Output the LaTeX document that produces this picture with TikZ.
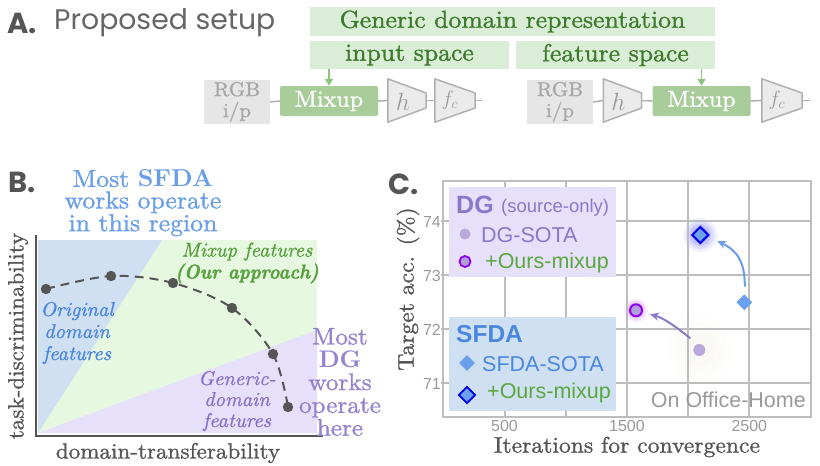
\documentclass[tikz,border=0pt]{standalone}
\usepackage{fontspec}
\setmainfont{lmroman10}[Extension=.otf, UprightFont=*-regular, BoldFont=*-bold, ItalicFont=*-italic, BoldItalicFont=*-bolditalic,
  UprightFeatures={FakeStretch=1.05, FakeBold=1.2}, ItalicFeatures={FakeStretch=1.02, FakeBold=1.0}]
\newfontfamily\lmbold{lmroman10-bold}[Extension=.otf, FakeStretch=1.0]
\newfontfamily\lmbolditalic{lmroman10-bolditalic}[Extension=.otf, FakeStretch=0.92, FakeBold=1.6]
\newfontfamily\arialf{Liberation Sans}
\newfontfamily\popf{Poppins}
\usetikzlibrary{calc,arrows.meta,shapes.geometric}
\newcommand\fsz[2]{\fontsize{#1}{#2}\selectfont}
\definecolor{titlegray}{HTML}{666666}
\definecolor{labelgray}{HTML}{555555}
\definecolor{gbg}{HTML}{DAEDD6}
\definecolor{gtxt}{HTML}{3D7A2C}
\definecolor{garrow}{HTML}{8CC47C}
\definecolor{mixfill}{HTML}{A9CC9B}
\definecolor{rgbfill}{HTML}{E6E6E6}
\definecolor{rgbtxt}{HTML}{A8A8A8}
\definecolor{ampfill}{HTML}{EBEBEB}
\definecolor{ampline}{HTML}{B0B0B0}
\definecolor{blueR}{HTML}{CFE0F2}
\definecolor{greenR}{HTML}{E6F8E0}
\definecolor{purpR}{HTML}{E6E0FA}
\definecolor{sfdablue}{HTML}{6A9EE8}
\definecolor{origblue}{HTML}{4A86E0}
\definecolor{mixgreen}{HTML}{5AA040}
\definecolor{genpurp}{HTML}{8A72CC}
\definecolor{dgpurp}{HTML}{9484D0}
\definecolor{dotgray}{HTML}{555555}
\definecolor{gridgray}{HTML}{BDBDBD}
\definecolor{tickgray}{HTML}{999999}
\definecolor{dgbox}{HTML}{E6E0FB}
\definecolor{sfbox}{HTML}{CFE0F2}
\definecolor{dglegtxt}{HTML}{8A78C8}
\definecolor{sflegtxt}{HTML}{4A88E0}
\definecolor{oursgreen}{HTML}{5AA83C}
\definecolor{dgsota}{HTML}{B8A8DC}
\definecolor{dgours}{HTML}{B0A0D8}
\definecolor{dgoursline}{HTML}{9000F0}
\definecolor{sffill}{HTML}{6AA0EC}
\definecolor{sfoursline}{HTML}{0000EE}
\definecolor{purparrow}{HTML}{8A78C8}
\definecolor{glowbeige}{HTML}{D8D4B8}
\begin{document}
\begin{tikzpicture}[x=1pt,y=-1pt,
  gbox/.style={fill=gbg, text=gtxt, inner sep=0, font=\fsz{24.5}{24.5}},
  rgbbox/.style={fill=rgbfill, text=rgbtxt, minimum width=66, minimum height=44, inner sep=0, align=center, font=\fsz{20}{21}},
  mixbox/.style={fill=mixfill, text=white, rounded corners=2, minimum width=98, minimum height=30, inner sep=0, font=\fsz{23}{23}},
  amp/.style={minimum width=38, minimum height=43, inner sep=0},
  chain/.style={draw=ampline, line width=1.5},
  garr/.style={draw=garrow, line width=1.8, -{Triangle[length=7,width=8]}},
  axisline/.style={draw=labelgray, line width=2},
  dashcurve/.style={draw=dotgray, line width=2, dash pattern=on 9 off 6},
  grid line/.style={draw=gridgray, line width=2},
  tick label/.style={text=tickgray, font=\arialf\fsz{16}{16}, inner sep=0},
  leg/.style={inner sep=0, font=\arialf\fsz{21.5}{21.5}},
]
\useasboundingbox (0,0) rectangle (820,466);

% ---------------- Panel A ----------------
\node[anchor=west, inner sep=0, text=labelgray, font=\popf\bfseries\fsz{29}{29}] (labA) at (7,23) {A.};
\node[anchor=west, inner sep=0, text=titlegray, font=\popf\fsz{28.3}{28.3}] (titleA) at (54,23) {Proposed setup};

\node[gbox, minimum width=405, minimum height=29] (gdr) at (512.5,21.5) {Generic domain representation};
\node[gbox, minimum width=199, minimum height=28] (inspace) at (409.5,55) {input space};
\node[gbox, minimum width=199, minimum height=28] (featspace) at (615.5,55) {feature space};

% left chain
\node[rgbbox] (rgb1) at (237,102) {RGB\\i/p};
\node[mixbox] (mix1) at (329,101) {Mixup};
\node[amp] (h1) at (407,100.5) {};
\node[amp, minimum width=40] (fc1) at (455,100.5) {};
\coordinate (out1) at (482,100.5);
% right chain
\node[rgbbox] (rgb2) at (560,102) {RGB\\i/p};
\node[amp] (h2) at (622.5,100.5) {};
\node[mixbox] (mix2) at (701.5,101) {Mixup};
\node[amp, minimum width=40] (fc2) at (782,100.5) {};
\coordinate (out2) at (810,100.5);

\foreach \n in {h1,fc1,h2,fc2}{
  \filldraw[fill=ampfill, draw=ampline, line width=1.5, line join=round]
    (\n.north west) -- ($(\n.east)+(0,-7.5)$) -- ($(\n.east)+(0,7.5)$) -- (\n.south west) -- cycle;
}
\foreach \n in {h1,h2}{
  \node[inner sep=0, text=tickgray, font=\fsz{25}{25}] at ($(\n.center)+(-4,1)$) {$h$};
}
\foreach \n in {fc1,fc2}{
  \node[inner sep=0, text=tickgray, font=\fsz{22}{22}] at ($(\n.center)+(-5,0)$) {$f_c$};
}

\draw[chain] (rgb1.east) -- (mix1.west);
\draw[chain] (mix1.east) -- (h1.west);
\draw[chain] (h1.east) -- (fc1.west);
\draw[chain] (fc1.east) -- (out1);
\draw[chain] (rgb2.east) -- (h2.west);
\draw[chain] (h2.east) -- (mix2.west);
\draw[chain] (mix2.east) -- (fc2.west);
\draw[chain] (fc2.east) -- (out2);

\draw[garr] (mix1.north |- inspace.south) -- (mix1.north);
\draw[garr] (mix2.north |- featspace.south) -- (mix2.north);

% ---------------- Panel B ----------------
\node[anchor=west, inner sep=0, text=labelgray, font=\popf\bfseries\fsz{29}{29}] (labB) at (8,182) {B.};

\fill[greenR] (38,240) rectangle (317,433);
\fill[blueR] (38,240) -- (162,240) -- (38,433) -- cycle;
\fill[purpR] (38,433) -- (317,330) -- (317,433) -- cycle;
\draw[axisline] (36,235) -- (36,436) -- (323,436);

\node[align=center, inner sep=0, text=sfdablue, font=\fsz{24.5}{21.5}] (sfdatxt) at (143,203)
  {Most {\lmbold SFDA}\\works operate\\in this region};
\node[align=center, inner sep=0, text=mixgreen, font=\itshape\fsz{20}{22}] (mixtxt) at (247,263)
  {Mixup features\\{\lmbolditalic (Our approach)}};
\node[align=center, inner sep=0, text=origblue, font=\itshape\fsz{20}{22}] (origtxt) at (77,333)
  {Original\\domain\\features};
\node[align=center, inner sep=0, text=genpurp, font=\itshape\fsz{20}{21}] (gentxt) at (237,401)
  {Generic-\\domain\\features};
\node[align=center, inner sep=0, text=dgpurp, font=\fsz{24}{22.8}] (dgtxt) at (340,382)
  {Most\\{\lmbold DG}\\works\\operate\\here};

\coordinate (p1) at (46,289);
\coordinate (p2) at (111,276);
\coordinate (p3) at (173,283);
\coordinate (p4) at (232,308);
\coordinate (p5) at (273,354);
\coordinate (p6) at (288,407);
\draw[dashcurve] plot[smooth, tension=0.55] coordinates {(p1) (p2) (p3) (p4) (p5) (p6)};
\foreach \p in {p1,p2,p3,p4,p5,p6}{ \fill[dotgray] (\p) circle (5.2); }

\node[rotate=90, inner sep=0, text=labelgray, font=\fsz{22}{22}] (ylabB) at (18,336) {task-discriminability};
\node[inner sep=0, text=labelgray, font=\fsz{22}{22}] (xlabB) at (168,453) {domain-transferability};

% ---------------- Panel C ----------------
\node[anchor=west, inner sep=0, text=labelgray, font=\popf\bfseries\fsz{29}{29}] (labC) at (388,184) {C.};

% glows
\foreach \r/\o in {34/0.03,28/0.035,22/0.04,16/0.04}{
  \fill[glowbeige, opacity=\o] (699.3,350) circle (\r);
}
\foreach \r/\o in {17/0.06,14/0.08,11/0.1,8/0.12}{
  \fill[blue, opacity=\o] (700.3,235) circle (\r);
}
\foreach \r/\o in {12/0.06,10/0.08,8/0.1}{
  \fill[dgoursline, opacity=\o] (636,310.3) circle (\r);
}

% grid
\foreach \x in {504.5,565.7,626.9,688.1,749.3}{ \draw[grid line] (\x,180.7) -- (\x,416.7); }
\foreach \y in {220.7,274.9,329.1,383.3}{ \draw[grid line] (443.3,\y) -- (810.5,\y); \draw[grid line] (440.5,\y) -- (443.3,\y); }
\draw[grid line] (443.3,180.7) rectangle (810.5,416.7);

\node[tick label, anchor=east] (t74) at (441,221.5) {74};
\node[tick label, anchor=east] (t73) at (441,275.5) {73};
\node[tick label, anchor=east] (t72) at (441,329.5) {72};
\node[tick label, anchor=east] (t71) at (441,383.5) {71};
\node[tick label] (t500) at (504.5,426) {500};
\node[tick label] (t1500) at (626.9,426) {1500};
\node[tick label] (t2500) at (749.3,426) {2500};

\node[rotate=90, inner sep=0, text=labelgray, font=\fsz{22.5}{22.5}] (ylabC) at (408,289) {Target acc. (\%)};
\node[inner sep=0, text=labelgray, font=\fsz{22.5}{22.5}] (xlabC) at (627,447) {Iterations for convergence};

% legends
\node[fill=dgbox, minimum width=167, minimum height=90, inner sep=0] (dgleg) at (532.5,232) {};
\node[fill=sfbox, minimum width=167, minimum height=94, inner sep=0] (sfleg) at (532.5,364) {};

\node[leg, anchor=base west, text=dglegtxt, font=\arialf\bfseries\fsz{25}{25}] (dgtitle) at (456,213) {DG};
\node[leg, anchor=base west, text=dglegtxt, font=\arialf\fsz{18.5}{18.5}] (dgsub) at (501,212) {(source-only)};
\node[circle, fill=dgsota, minimum size=11, inner sep=0] (dgm1) at (465,234) {};
\node[leg, anchor=base west, text=dglegtxt] (dgl1) at (481,242) {DG-SOTA};
\node[circle, draw=dgoursline, line width=1.8, fill=dgours, minimum size=11, inner sep=0] (dgm2) at (465,261.5) {};
\node[leg, anchor=base west, text=oursgreen] (dgl2) at (485,268) {+Ours-mixup};

\node[leg, anchor=base west, text=sflegtxt, font=\arialf\bfseries\fsz{24.5}{24.5}] (sftitle) at (456,342) {SFDA};
\node[diamond, fill=sffill, minimum size=16, inner sep=0] (sfm1) at (467,363) {};
\node[leg, anchor=base west, text=sflegtxt] (sfl1) at (482,371) {SFDA-SOTA};
\node[diamond, draw=sfoursline, line width=1.8, fill=sffill, minimum size=17, inner sep=0] (sfm2) at (467,395) {};
\node[leg, anchor=base west, text=oursgreen] (sfl2) at (487,398) {+Ours-mixup};

\node[leg, anchor=base east, text=tickgray, font=\arialf\fsz{21.5}{21.5}] (office) at (806,407) {On Office-Home};

% data points
\node[circle, fill=dgsota, minimum size=12, inner sep=0] (dgA) at (699.3,350) {};
\node[circle, draw=dgoursline, line width=2, fill=dgours, minimum size=12, inner sep=0] (dgB) at (636,310.3) {};
\node[diamond, fill=sffill, minimum size=16, inner sep=0] (sfA) at (744.3,302.3) {};
\node[diamond, draw=sfoursline, line width=2, fill=sffill, minimum size=17, inner sep=0] (sfB) at (700.3,235) {};

\draw[draw=sfdablue, line width=2, -{Stealth[length=9,width=8]}]
  ($(sfA.north)+(0.5,-7.5)$) .. controls (745,263) and (738,251) .. ($(sfB.east)+(7.5,6)$);
\draw[draw=purparrow, line width=2, -{Stealth[length=9,width=8]}]
  ($(dgA.north)+(-9,-5.5)$) .. controls (679,329) and (664,318) .. ($(dgB.east)+(7,4)$);
\end{tikzpicture}
\end{document}
